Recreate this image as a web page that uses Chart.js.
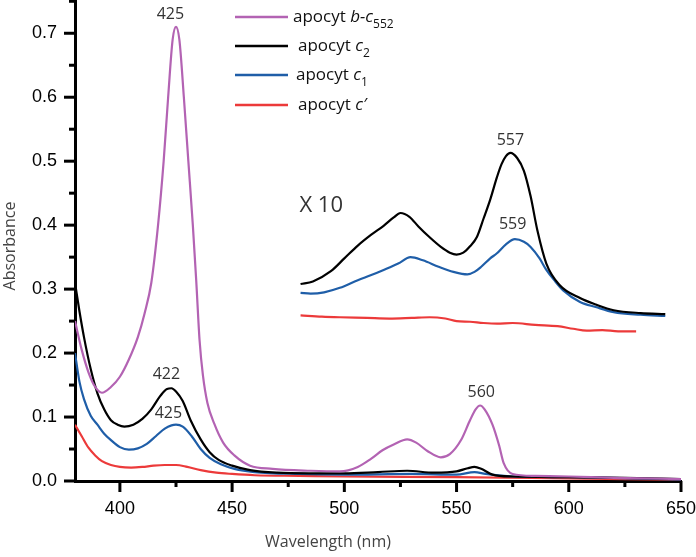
<!DOCTYPE html>
<html>
<head>
<meta charset="utf-8">
<script src="https://cdn.jsdelivr.net/npm/chart.js@4"></script>
<style>
  body { margin: 0; background: #fff; }
  #myChart { display: block; }
</style>
</head>
<body>
<canvas id="myChart" width="696" height="557"></canvas>
<script>
// main spectra (wavelength nm, absorbance)
const wlB = [380, 383, 386, 389, 392, 396, 400, 404, 408, 411, 414, 417, 419.5, 421.5, 423.5, 425, 426.5, 428.5, 430.5, 432.5, 434, 435.5, 437, 439, 442, 446, 451, 458, 468, 485, 498, 506, 512, 517, 522, 528, 532, 537, 543, 547, 552, 556, 558.5, 560.5, 562.5, 566, 569, 571, 575, 585, 600, 620, 650];
const absB = [0.25, 0.205, 0.17, 0.147, 0.138, 0.147, 0.163, 0.19, 0.225, 0.262, 0.31, 0.4, 0.5, 0.6, 0.69, 0.71, 0.69, 0.6, 0.5, 0.4, 0.314, 0.22, 0.165, 0.122, 0.09, 0.06, 0.04, 0.024, 0.019, 0.016, 0.015, 0.022, 0.035, 0.048, 0.057, 0.065, 0.06, 0.047, 0.037, 0.042, 0.064, 0.095, 0.112, 0.118, 0.112, 0.088, 0.055, 0.028, 0.011, 0.008, 0.007, 0.005, 0.003];

const wlC2 = [380, 382, 384, 387, 390, 393, 396, 399, 402, 406, 410, 414, 418, 421, 423, 425, 428, 431.5, 436, 440, 444, 450, 458, 470, 484, 500, 515, 528, 540, 550, 555, 558, 561, 566, 575, 600, 625, 650];
const absC2 = [0.31, 0.265, 0.225, 0.175, 0.137, 0.112, 0.095, 0.088, 0.085, 0.088, 0.097, 0.112, 0.133, 0.144, 0.145, 0.14, 0.125, 0.095, 0.065, 0.045, 0.033, 0.024, 0.017, 0.013, 0.012, 0.012, 0.014, 0.016, 0.013, 0.015, 0.02, 0.022, 0.019, 0.01, 0.007, 0.006, 0.005, 0.003];

const wlC1 = [380, 382, 384, 387, 390, 393, 396, 400, 404, 408, 412, 416, 420, 423, 425, 428, 432, 436, 440, 445, 451, 460, 480, 500, 530, 550, 558, 563, 575, 600, 650];
const absC1 = [0.2, 0.155, 0.128, 0.102, 0.088, 0.074, 0.064, 0.053, 0.049, 0.051, 0.058, 0.07, 0.082, 0.087, 0.088, 0.085, 0.07, 0.05, 0.036, 0.026, 0.019, 0.014, 0.011, 0.01, 0.011, 0.01, 0.014, 0.011, 0.007, 0.006, 0.002];

const wlCp = [380, 383, 386, 389, 392, 396, 400, 405, 410, 415, 420, 425, 430, 436, 443, 450, 460, 480, 500, 550, 600, 650];
const absCp = [0.088, 0.07, 0.052, 0.04, 0.031, 0.025, 0.022, 0.021, 0.022, 0.024, 0.025, 0.025, 0.022, 0.017, 0.013, 0.011, 0.009, 0.008, 0.007, 0.006, 0.004, 0.002];

// "X 10" inset, values as drawn on the main axes
const wlInC2 = [480.5, 486, 494, 500, 506, 512, 517.5, 522, 525, 529, 533, 538, 543, 547, 550, 553, 556, 559, 562, 565, 568, 570, 572, 574, 577, 580, 583, 586, 590, 596, 605, 612, 620, 632, 643];
const absInC2 = [0.308, 0.312, 0.328, 0.348, 0.368, 0.385, 0.399, 0.412, 0.419, 0.413, 0.398, 0.381, 0.366, 0.357, 0.354, 0.357, 0.367, 0.381, 0.41, 0.44, 0.475, 0.495, 0.508, 0.513, 0.505, 0.485, 0.445, 0.392, 0.34, 0.306, 0.286, 0.276, 0.267, 0.2625, 0.261];

const wlInC1 = [480.5, 485, 491, 498, 506, 512, 517.5, 524, 529.5, 535, 542, 548.6, 554.8, 558, 561, 565, 568, 572, 576, 580, 583, 587, 590, 594, 597.5, 605, 612, 620, 632, 643];
const absInC1 = [0.294, 0.293, 0.295, 0.302, 0.314, 0.322, 0.33, 0.34, 0.35, 0.345, 0.335, 0.327, 0.323, 0.327, 0.335, 0.348, 0.356, 0.37, 0.378, 0.374, 0.366, 0.348, 0.33, 0.312, 0.298, 0.28, 0.272, 0.264, 0.26, 0.258];

const wlInCp = [480.5, 490, 498, 510, 520, 530, 538, 545, 550, 556, 562, 568, 575, 585, 595, 602, 608, 615, 622, 630];
const absInCp = [0.259, 0.257, 0.256, 0.255, 0.254, 0.255, 0.256, 0.254, 0.25, 0.249, 0.247, 0.246, 0.247, 0.244, 0.242, 0.238, 0.235, 0.236, 0.234, 0.234];

// axis ticks
const xTicks = [400, 450, 500, 550, 600, 650];
const yTicks = [0, 0.1, 0.2, 0.3, 0.4, 0.5, 0.6, 0.7];

// legend: [plain, italic, subscript]
const legendNames = [
  ["apocyt ", "b-c", "552"],
  ["apocyt ", "c", "2"],
  ["apocyt ", "c", "1"],
  ["apocyt ", "c\u2032", ""]
];
const colors = ["#b363b3", "#000000", "#1f5ea8", "#ec3a3a"];

// peak labels (text, wavelength, absorbance)
const peakText = ["425", "422", "425", "560", "557", "559"];
const peakX = [422.5, 420.7, 421.6, 561, 574, 575];
const peakY = [0.729, 0.167, 0.106, 0.139, 0.533, 0.401];
const insetText = "X 10";

function pts(xs, ys) {
  return xs.map((x, i) => ({ x: x, y: ys[i] }));
}

function line(xs, ys, color) {
  return {
    data: pts(xs, ys),
    borderColor: color,
    borderWidth: 2.2,
    pointRadius: 0,
    fill: false,
    cubicInterpolationMode: "monotone"
  };
}

const decor = {
  id: "decor",
  afterDraw(chart) {
    const ctx = chart.ctx;
    const xs = chart.scales.x;
    const ys = chart.scales.y;
    const area = chart.chartArea;
    ctx.save();
    ctx.strokeStyle = "#000";
    ctx.lineWidth = 3;
    // x ticks
    for (let v = 400; v <= 650; v += 25) {
      const px = xs.getPixelForValue(v);
      const len = v % 50 === 0 ? 11 : 6;
      ctx.beginPath();
      ctx.moveTo(px, area.bottom);
      ctx.lineTo(px, area.bottom + len);
      ctx.stroke();
    }
    // y ticks
    for (let i = 0; i <= 15; i++) {
      const v = i * 0.05;
      const py = ys.getPixelForValue(v);
      const len = i % 2 === 0 ? 11 : 6;
      ctx.beginPath();
      ctx.moveTo(area.left, py);
      ctx.lineTo(area.left - len, py);
      ctx.stroke();
    }

    // peak labels
    ctx.fillStyle = "#333";
    ctx.font = "16px 'Open Sans'";
    ctx.textAlign = "center";
    ctx.textBaseline = "middle";
    peakText.forEach((t, i) => {
      ctx.fillText(t, xs.getPixelForValue(peakX[i]), ys.getPixelForValue(peakY[i]));
    });
    ctx.font = "22px 'Open Sans'";
    ctx.textAlign = "left";
    ctx.fillText(insetText, xs.getPixelForValue(480), ys.getPixelForValue(0.43));

    // axis titles
    ctx.fillStyle = "#444";
    ctx.font = "16px 'Open Sans'";
    ctx.textAlign = "center";
    ctx.fillText("Wavelength (nm)", 328, 542);
    ctx.save();
    ctx.translate(10, 246);
    ctx.rotate(-Math.PI / 2);
    ctx.fillText("Absorbance", 0, 0);
    ctx.restore();

    // legend
    const rowsY = [17, 46, 75, 105];
    const textX = [293, 298, 296, 298];
    legendNames.forEach((parts, i) => {
      const y = rowsY[i];
      ctx.strokeStyle = colors[i];
      ctx.lineWidth = 2.5;
      ctx.beginPath();
      ctx.moveTo(235, y);
      ctx.lineTo(288, y);
      ctx.stroke();
      ctx.fillStyle = "#111";
      ctx.textAlign = "left";
      ctx.textBaseline = "middle";
      let x = textX[i];
      ctx.font = "17px 'Open Sans'";
      ctx.fillText(parts[0], x, y);
      x += ctx.measureText(parts[0]).width;
      ctx.font = "italic 17px 'Open Sans'";
      ctx.fillText(parts[1], x, y);
      x += ctx.measureText(parts[1]).width;
      if (parts[2]) {
        ctx.font = "12px 'Open Sans'";
        ctx.fillText(parts[2], x, y + 8);
      }
    });
    ctx.restore();
  }
};

const ctx = document.getElementById("myChart");

new Chart(ctx, {
  type: "line",
  data: {
    datasets: [
      line(wlB, absB, colors[0]),
      line(wlC2, absC2, colors[1]),
      line(wlC1, absC1, colors[2]),
      line(wlCp, absCp, colors[3]),
      line(wlInC2, absInC2, colors[1]),
      line(wlInC1, absInC1, colors[2]),
      line(wlInCp, absInCp, colors[3])
    ]
  },
  options: {
    responsive: false,
    devicePixelRatio: 1,
    animation: false,
    layout: { padding: { left: 0, right: 15, top: 0, bottom: 0 } },
    plugins: { legend: { display: false }, tooltip: { enabled: false } },
    scales: {
      x: {
        type: "linear",
        min: 380,
        max: 650,
        afterBuildTicks: s => { s.ticks = xTicks.map(v => ({ value: v })); },
        afterFit: s => { s.height = 76; s.paddingLeft = 0; s.paddingRight = 0; },
        ticks: {
          padding: 17,
          color: "#000",
          font: { family: "'Liberation Sans', Arial", size: 18 }
        },
        grid: { display: false, drawTicks: false },
        border: { color: "#000", width: 3 }
      },
      y: {
        min: 0,
        max: 0.752,
        afterBuildTicks: s => { s.ticks = yTicks.map(v => ({ value: v })); },
        afterFit: s => { s.width = 75; s.paddingTop = 0; s.paddingBottom = 0; },
        ticks: {
          padding: 18,
          color: "#000",
          font: { family: "'Liberation Sans', Arial", size: 18 },
          callback: v => v.toFixed(1)
        },
        grid: { display: false, drawTicks: false },
        border: { color: "#000", width: 3 }
      }
    }
  },
  plugins: [decor]
});
</script>
</body>
</html>
